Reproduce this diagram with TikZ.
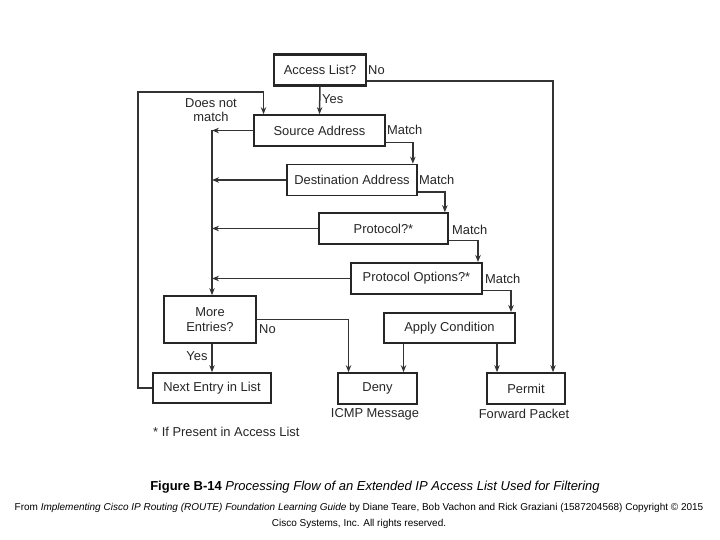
\documentclass[tikz,border=0pt]{standalone}
\usepackage{fontspec}
\setmainfont{Liberation Sans}
\usepackage{tikz}
\usetikzlibrary{positioning,arrows.meta}
\tikzset{%
  every flowbox/.style={
    rectangle,
    draw=black!85,
    line width=1.7pt,
    inner sep=0pt,
    text=black!85,
    font=\fontsize{12.9}{14.5}\selectfont
  },
  flow label/.style={
    inner sep=0pt,
    text=black!85,
    font=\fontsize{12.9}{14.5}\selectfont
  },
  flow line/.style={
    draw=black!80,
    line width=1.5pt
  },
}

\begin{document}
\begin{tikzpicture}[> = {Stealth[length=7pt,width=5.5pt]}, x=1pt, y=-1pt]
\useasboundingbox[fill=white] (0,0) rectangle (720,540);

    % decision boxes
    \node[every flowbox, line width=2.2pt, minimum width=92pt, minimum height=31pt] (access) at (320,70) {Access List?};
    \node[every flowbox, minimum width=131pt, minimum height=31pt] (source) at (319.5,130.5) {Source Address};
    \node[every flowbox, minimum width=130pt, minimum height=31pt] (dest) at (352,180) {Destination Address};
    \node[every flowbox, minimum width=129pt, minimum height=31pt] (proto) at (383.5,228.5) {Protocol?*};
    \node[every flowbox, line width=2pt, minimum width=131pt, minimum height=31pt] (protoopt) at (416.5,278.5) {Protocol Options?*};
    \node[every flowbox, line width=2pt, minimum width=131pt, minimum height=30pt] (apply) at (449.5,328) {Apply Condition};
    \node[every flowbox, minimum width=92pt, minimum height=47pt, align=center] (more) at (210,319.5) {More\\Entries?};
    \node[every flowbox, minimum width=118pt, minimum height=30pt] (next) at (212,388) {Next Entry in List};
    \node[every flowbox, minimum width=79pt, minimum height=31pt] (deny) at (377.5,388.5) {Deny};
    \node[every flowbox, minimum width=78pt, minimum height=31pt] (permit) at (526,388.5) {Permit};

    \coordinate (bus) at (212,130);
    \coordinate (loop) at (138,92);

    % match chain
    \draw[flow line, ->] (access.south) -- (source.north);
    \draw[flow line, ->] ([yshift=-12]source.east) -| ([xshift=-5]dest.north east);
    \draw[flow line, ->] ([yshift=-12]dest.east) -| ([xshift=-4]proto.north east);
    \draw[flow line, ->] ([yshift=-12]proto.east) -| ([xshift=-5]protoopt.north east);
    \draw[flow line, ->] ([yshift=-12]protoopt.east) -| ([xshift=-5]apply.north east);
    \draw[flow line, ->] ([yshift=-11]access.east) -| ([xshift=27]permit.north);

    % does not match
    \foreach \bx in {source,dest,proto,protoopt}
        \draw[flow line, ->] (\bx.west) -- (\bx.west -| bus);
    \draw[flow line, ->] (bus) -- (bus |- more.north);
    \draw[flow line, ->] (next.north |- more.south) -- (next.north);
    \draw[flow line, ->] (next.west) -| (loop) -| ([xshift=-56]source.north);
    \draw[flow line, ->] (more.east) -| ([xshift=-29]deny.north);
    \draw[flow line, ->] ([xshift=26]deny.north |- apply.south) -- ([xshift=26]deny.north);
    \draw[flow line, ->] ([xshift=-29]permit.north |- apply.south) -- ([xshift=-29]permit.north);

    % labels
    \node[flow label, anchor=west] (l_no) at (368,70) {No};
    \node[flow label, anchor=west] (l_yes) at (322,99) {Yes};
    \node[flow label, align=center] (l_dnm) at (211,110) {Does not\\match};
    \node[flow label, anchor=west] (l_m1) at (387,130) {Match};
    \node[flow label, anchor=west] (l_m2) at (419,180) {Match};
    \node[flow label, anchor=west] (l_m3) at (452,230) {Match};
    \node[flow label, anchor=west] (l_m4) at (485,279) {Match};
    \node[flow label, anchor=west] (l_mno) at (259,329) {No};
    \node[flow label] (l_myes) at (197,356) {Yes};
    \node[flow label] (l_icmp) at (375,414) {ICMP Message};
    \node[flow label] (l_fwd) at (524,414) {Forward Packet};
    \node[flow label, anchor=west] (l_note) at (153,432) {* If Present in Access List};

    % caption
    \node[inner sep=0pt, font=\fontsize{13}{15}\selectfont] (caption) at (375,487)
        {\textbf{Figure B-14} \textit{Processing Flow of an Extended IP Access List Used for Filtering}};
    \node[inner sep=0pt, font=\fontsize{10}{16}\selectfont, align=center] (credit) at (359,516)
        {From \textit{Implementing Cisco IP Routing (ROUTE) Foundation Learning Guide} by Diane Teare, Bob Vachon and Rick Graziani (1587204568) Copyright © 2015\\Cisco Systems, Inc. All rights reserved.};
\end{tikzpicture}
\end{document}
